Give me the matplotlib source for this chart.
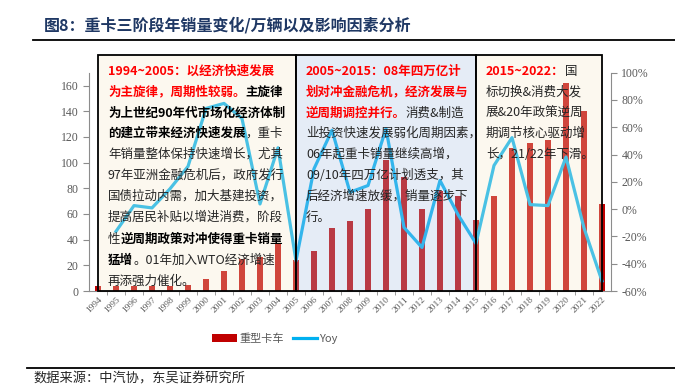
import numpy as np
import matplotlib
matplotlib.use("Agg")
from matplotlib import pyplot as plt
from matplotlib.patches import Rectangle, Patch
from matplotlib.lines import Line2D
import matplotlib.transforms as mtransforms

plt.rcParams['font.family'] = ['Noto Sans CJK SC', 'DejaVu Sans']

# data
years = [str(y) for y in range(1994, 2023)]
sales = [3.6, 3.6, 3.6, 3.7, 3.7, 4.9, 9.0, 15.4, 24.6, 26.5, 37.4,
         23.9, 31.1, 49.0, 54.7, 63.8, 102.2, 88.7, 63.8, 77.6, 74.0,
         55.5, 73.7, 111.7, 115.1, 117.6, 161.9, 139.8, 67.5]
yoy = [np.nan, -16.3, 2.6, 0.9, 14.9, 31.3, 73.8, 77.5, 66.4, 3.8, 45.0,
       -37.9, 29.6, 57.8, 12.4, 17.3, 59.0, -13.4, -28.1, 21.0, -4.0,
       -25.2, 32.0, 52.4, 3.3, 2.6, 38.2, -13.8, -52.7]
bar_label = '重型卡车'
line_label = 'Yoy'
title = '图8：重卡三阶段年销量变化/万辆以及影响因素分析'
source = '数据来源：中汽协，东吴证券研究所'

# text boxes: (start index, end index, fill, lines of (text, style))
R, B, N = 'red', 'bold', 'normal'
boxes = [
    (0, 11, (248/255, 235/255, 202/255, 0.3), [
        [('1994~2005：以经济快速发展', R)],
        [('为主旋律，周期性较弱。', R), ('主旋律', B)],
        [('为上世纪90年代市场化经济体制', B)],
        [('的建立带来经济快速发展', B), ('，重卡', N)],
        [('年销量整体保持快速增长，尤其', N)],
        [('97年亚洲金融危机后，政府发行', N)],
        [('国债拉动内需，加大基建投资，', N)],
        [('提高居民补贴以增进消费，阶段', N)],
        [('性', N), ('逆周期政策对冲使得重卡销量', B)],
        [('猛增', B), ('。01年加入WTO经济增速', N)],
        [('再添强力催化。', N)],
    ]),
    (11, 21, (172/255, 193/255, 228/255, 0.3), [
        [('2005~2015：08年四万亿计', R)],
        [('划对冲金融危机，经济发展与', R)],
        [('逆周期调控并行。', R), ('消费&制造', N)],
        [('业投资快速发展弱化周期因素，', N)],
        [('06年起重卡销量继续高增，', N)],
        [('09/10年四万亿计划透支，其', N)],
        [('后经济增速放缓，销量逐步下', N)],
        [('行。', N)],
    ]),
    (21, 28, (248/255, 235/255, 202/255, 0.3), [
        [('2015~2022：', R), ('国', N)],
        [('标切换&消费大发', N)],
        [('展&20年政策逆周', N)],
        [('期调节核心驱动增', N)],
        [('长，21/22年下滑。', N)],
    ]),
]

W, H = 675, 387
fig = plt.figure(figsize=(W / 100, H / 100), dpi=100)
ax = fig.add_axes([89 / W, 1 - 291 / H, (611 - 89) / W, (291 - 72.7) / H])
ax2 = ax.twinx()

x = np.arange(len(years))
ax.bar(x, sales, width=0.38, color='#C00000', zorder=2)
ax2.plot(x, np.array(yoy) / 100, color='#00B0F0', lw=2.3, zorder=2)

ax.set_xlim(-0.5, len(years) - 0.5)
ax.set_ylim(0, 170)
ax.set_yticks(range(0, 161, 20))
ax2.set_ylim(-0.6, 1.0)
ax2.set_yticks(np.arange(-0.6, 1.01, 0.2))
ax2.set_yticklabels([f'{v:.0f}%' for v in np.arange(-60, 101, 20)])

ax.set_xticks(x)
ax.set_xticklabels(years, rotation=45, ha='right', rotation_mode='anchor')
ax.set_xticks(x[:-1] + 0.5, minor=True)

gray = '#8c8c8c'
for a in (ax, ax2):
    for s in a.spines.values():
        s.set_color(gray)
    a.spines['top'].set_visible(False)
    a.tick_params(colors=gray, labelcolor='#595959', length=4, width=0.8)
    for lab in a.get_yticklabels() + a.get_xticklabels():
        lab.set_fontfamily('Liberation Serif')
ax.spines['right'].set_visible(False)
ax2.spines['left'].set_visible(False)
ax2.spines['bottom'].set_visible(False)
ax.tick_params(axis='y', labelsize=8.5)
ax2.tick_params(axis='y', labelsize=8.5)
ax.tick_params(axis='x', which='major', length=0, labelsize=6.8, pad=3)
ax.tick_params(axis='x', which='minor', length=3, color=gray)

# boxes and their text
trans = mtransforms.blended_transform_factory(ax2.transData, ax2.transAxes)
box_top = (291 - 55) / (291 - 72.7)
line_px = [71.7, 92.3, 113, 133.5, 154.5, 175.5, 196.5, 217.5, 239, 260, 281]
styles = {R: dict(color='#FF0000', fontweight='bold'),
          B: dict(color='black', fontweight='bold'),
          N: dict(color='#262626', fontweight='normal')}
for i0, i1, fc, lines in boxes:
    ax2.add_patch(Rectangle((i0, 0), i1 - i0, box_top, transform=trans,
                            facecolor=fc, edgecolor='black', lw=1.3,
                            clip_on=False, zorder=5))
    x0 = ax2.transData.transform((i0, 0))[0] + 10
    for k, segs in enumerate(lines):
        prev = None
        for txt, st in segs:
            if prev is None:
                prev = ax2.annotate(txt, xy=(x0, H - line_px[k]),
                                    xycoords='figure pixels', va='center',
                                    ha='left', fontsize=9, zorder=6,
                                    annotation_clip=False, **styles[st])
            else:
                prev = ax2.annotate(txt, xy=(1, 0.5), xycoords=prev,
                                    va='center', ha='left', fontsize=9,
                                    zorder=6, annotation_clip=False,
                                    **styles[st])

# title, rules, legend, source
fig.text(44 / W, 1 - 25 / H, title, fontsize=11.5, fontweight='bold',
         color='#1F3864', va='center', ha='left')
fig.add_artist(Line2D([33 / W, 1], [1 - 40 / H] * 2, color='black', lw=1.3))
fig.add_artist(Line2D([27 / W, 1], [1 - 368 / H] * 2, color='black', lw=1.3))
fig.text(33 / W, 1 - 378.5 / H, source, fontsize=9.5, color='#262626',
         va='center', ha='left')

handles = [Patch(facecolor='#C00000'),
           Line2D([0], [0], color='#00B0F0', lw=2.3)]
fig.legend(handles, [bar_label, line_label], loc='center',
           bbox_to_anchor=(275 / W, 1 - 339 / H), ncol=2, frameon=False,
           fontsize=8, labelcolor='#595959', handlelength=2.2,
           handletextpad=0.2, columnspacing=0.8)

fig.savefig('out.png', dpi=100)
